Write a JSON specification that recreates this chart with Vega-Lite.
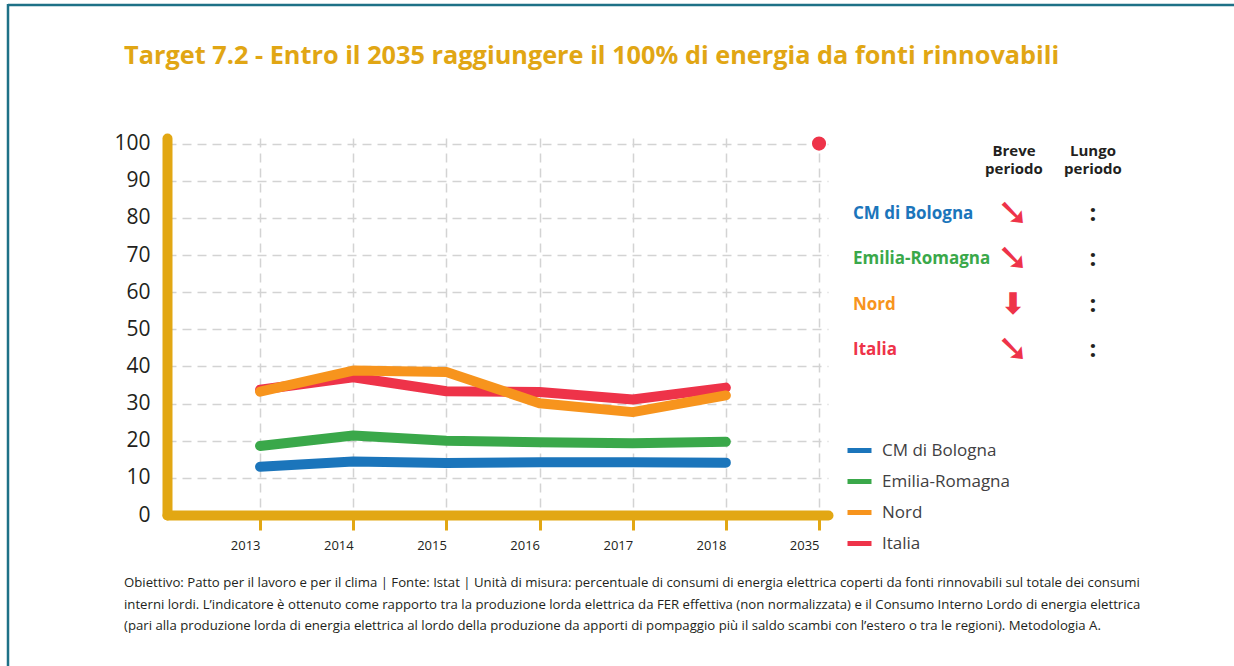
{
  "$schema": "https://vega.github.io/schema/vega-lite/v6.json",
  "autosize": {"type": "none"},
  "padding": {"left": 167, "top": 138, "right": 406, "bottom": 151},
  "width": 661,
  "height": 377,
  "background": "white",
  "title": {
    "text": "Target 7.2 - Entro il 2035 raggiungere il 100% di energia da fonti rinnovabili",
    "anchor": "start",
    "frame": "group",
    "dx": -43,
    "offset": 0,
    "dy": 87,
    "baseline": "alphabetic",
    "font": "Open Sans",
    "fontSize": 25.3,
    "fontWeight": "bold",
    "color": "#e1a614"
  },
  "config": {"view": {"stroke": null}, "font": "Open Sans"},
  "datasets": {
    "series": [
      {"series": "CM di Bologna", "year": "2013", "value": 13.0},
      {"series": "CM di Bologna", "year": "2014", "value": 14.4},
      {"series": "CM di Bologna", "year": "2015", "value": 14.0},
      {"series": "CM di Bologna", "year": "2016", "value": 14.2},
      {"series": "CM di Bologna", "year": "2017", "value": 14.2},
      {"series": "CM di Bologna", "year": "2018", "value": 14.1},
      {"series": "Emilia-Romagna", "year": "2013", "value": 18.6},
      {"series": "Emilia-Romagna", "year": "2014", "value": 21.4},
      {"series": "Emilia-Romagna", "year": "2015", "value": 20.0},
      {"series": "Emilia-Romagna", "year": "2016", "value": 19.6},
      {"series": "Emilia-Romagna", "year": "2017", "value": 19.3},
      {"series": "Emilia-Romagna", "year": "2018", "value": 19.7},
      {"series": "Italia", "year": "2013", "value": 33.7},
      {"series": "Italia", "year": "2014", "value": 37.1},
      {"series": "Italia", "year": "2015", "value": 33.3},
      {"series": "Italia", "year": "2016", "value": 33.1},
      {"series": "Italia", "year": "2017", "value": 31.1},
      {"series": "Italia", "year": "2018", "value": 34.3},
      {"series": "Nord", "year": "2013", "value": 33.2},
      {"series": "Nord", "year": "2014", "value": 38.9},
      {"series": "Nord", "year": "2015", "value": 38.5},
      {"series": "Nord", "year": "2016", "value": 30.1},
      {"series": "Nord", "year": "2017", "value": 27.7},
      {"series": "Nord", "year": "2018", "value": 32.2}
    ],
    "target": [{"year": "2035", "value": 100}],
    "trend": [
      {"series": "CM di Bologna", "breve": "➘", "lungo": ":"},
      {"series": "Emilia-Romagna", "breve": "➘", "lungo": ":"},
      {"series": "Nord", "breve": "⬇", "lungo": ":"},
      {"series": "Italia", "breve": "➘", "lungo": ":"}
    ],
    "headers": [
      {"col": "breve", "line": "1", "text": "Breve"},
      {"col": "breve", "line": "2", "text": "periodo"},
      {"col": "lungo", "line": "1", "text": "Lungo"},
      {"col": "lungo", "line": "2", "text": "periodo"}
    ],
    "notes": [
      {"line": "1", "text": "Obiettivo: Patto per il lavoro e per il clima | Fonte: Istat | Unità di misura: percentuale di consumi di energia elettrica coperti da fonti rinnovabili sul totale dei consumi"},
      {"line": "2", "text": "interni lordi. L’indicatore è ottenuto come rapporto tra la produzione lorda elettrica da FER effettiva (non normalizzata) e il Consumo Interno Lordo di energia elettrica"},
      {"line": "3", "text": "(pari alla produzione lorda di energia elettrica al lordo della produzione da apporti di pompaggio più il saldo scambi con l’estero o tra le regioni). Metodologia A."}
    ]
  },
  "layer": [
    {
      "data": {"values": [{"frame": "top"}]},
      "mark": {"type": "rule", "color": "#1e7187", "strokeWidth": 2.5},
      "encoding": {
        "x": {"datum": 0, "type": "quantitative", "scale": {"domain": [0, 1], "range": [-159, 1067]}, "axis": null},
        "x2": {"datum": 1},
        "y": {"datum": 0, "type": "quantitative", "scale": {"domain": [0, 1], "range": [-133, 700]}, "axis": null}
      }
    },
    {
      "data": {"values": [{"frame": "left"}]},
      "mark": {"type": "rule", "color": "#1e7187", "strokeWidth": 2.5},
      "encoding": {
        "x": {"datum": 0, "type": "quantitative", "scale": {"domain": [0, 1], "range": [-159, 1067]}, "axis": null},
        "y": {"datum": 0, "type": "quantitative", "scale": {"domain": [0, 1], "range": [-134, 528]}, "axis": null},
        "y2": {"datum": 1}
      }
    },
    {
      "encoding": {
        "x": {
          "field": "year", "type": "ordinal",
          "scale": {"type": "point", "domain": ["2013", "2014", "2015", "2016", "2017", "2018", "2035"], "padding": 0.5475, "align": 0.912},
          "axis": {
            "orient": "bottom", "title": null, "labelAngle": 0,
            "domainColor": "#e2a713", "domainWidth": 10, "domainCap": "round",
            "tickColor": "#e2a713", "tickWidth": 3, "tickSize": 15,
            "labelAlign": "right", "labelBaseline": "top", "labelPadding": 9,
            "labelFont": "Open Sans", "labelFontSize": 13, "labelColor": "#231f20",
            "grid": true, "gridColor": "#d3d3d3", "gridDash": [9, 6], "gridWidth": 1.5
          }
        },
        "y": {
          "field": "value", "type": "quantitative",
          "scale": {"domain": [0, 101.5], "nice": false},
          "axis": {
            "orient": "left", "title": null,
            "values": [0, 10, 20, 30, 40, 50, 60, 70, 80, 90, 100],
            "labelOverlap": false,
            "domainColor": "#e2a713", "domainWidth": 10, "domainCap": "round",
            "ticks": false, "labelPadding": 17,
            "labelFont": "Open Sans", "labelFontSize": 21, "labelColor": "#231f20",
            "grid": true, "gridColor": "#d3d3d3", "gridDash": [9, 6], "gridWidth": 1.5
          }
        }
      },
      "layer": [
        {
          "data": {"name": "series"},
          "mark": {"type": "line", "strokeWidth": 10, "strokeCap": "round", "strokeJoin": "round"},
          "encoding": {
            "color": {
              "field": "series", "type": "nominal",
              "scale": {"domain": ["CM di Bologna", "Emilia-Romagna", "Nord", "Italia"], "range": ["#1b75bb", "#3aa84a", "#f7941d", "#ee3349"]},
              "legend": {
                "orient": "none", "legendX": 678, "legendY": 298, "title": null,
                "symbolType": "stroke", "symbolStrokeWidth": 5, "symbolSize": 576,
                "labelFont": "Open Sans", "labelFontSize": 17, "labelColor": "#414042",
                "rowPadding": 6, "labelOffset": 8
              }
            }
          }
        },
        {
          "data": {"name": "target"},
          "mark": {"type": "circle", "size": 200, "color": "#ee3349", "opacity": 1}
        }
      ]
    },
    {
      "data": {"name": "trend"},
      "encoding": {
        "y": {"field": "series", "type": "ordinal", "scale": {"type": "point", "domain": ["CM di Bologna", "Emilia-Romagna", "Nord", "Italia"], "range": [76, 212], "padding": 0}, "axis": null}
      },
      "layer": [
        {
          "mark": {"type": "text", "align": "left", "baseline": "middle", "font": "Open Sans", "fontWeight": "bold", "fontSize": 17},
          "encoding": {
            "x": {"datum": "name", "type": "ordinal", "scale": {"type": "point", "domain": ["name", "gap", "breve", "lungo"], "range": [686, 926], "padding": 0}, "axis": null},
            "text": {"field": "series"},
            "color": {"field": "series", "type": "nominal", "scale": {"domain": ["CM di Bologna", "Emilia-Romagna", "Nord", "Italia"], "range": ["#1b75bb", "#3aa84a", "#f7941d", "#ee3349"]}, "legend": null}
          }
        },
        {
          "mark": {"type": "text", "align": "center", "baseline": "middle", "font": "DejaVu Sans", "fontWeight": "bold", "color": "#ee3349"},
          "encoding": {
            "x": {"datum": "breve", "type": "ordinal"},
            "text": {"field": "breve"},
            "size": {"condition": {"test": "datum.breve == '⬇'", "value": 30}, "value": 38}
          }
        },
        {
          "mark": {"type": "text", "align": "center", "baseline": "middle", "font": "Open Sans", "fontWeight": "bold", "fontSize": 24, "color": "#231f20"},
          "encoding": {
            "x": {"datum": "lungo", "type": "ordinal"},
            "text": {"field": "lungo"}
          }
        }
      ]
    },
    {
      "data": {"name": "headers"},
      "mark": {"type": "text", "align": "center", "baseline": "middle", "font": "Open Sans", "fontWeight": "bold", "fontSize": 15, "color": "#231f20"},
      "encoding": {
        "x": {"field": "col", "type": "ordinal", "scale": {"type": "point", "domain": ["breve", "lungo"], "range": [847, 926], "padding": 0}, "axis": null},
        "y": {"field": "line", "type": "ordinal", "scale": {"type": "point", "domain": ["1", "2"], "range": [13, 31], "padding": 0}, "axis": null},
        "text": {"field": "text"}
      }
    },
    {
      "data": {"name": "notes"},
      "mark": {"type": "text", "align": "left", "baseline": "middle", "font": "Open Sans", "fontSize": 13.2, "color": "#231f20"},
      "encoding": {
        "x": {"datum": 0, "type": "quantitative", "scale": {"domain": [0, 1], "range": [-43, 957]}, "axis": null},
        "y": {"field": "line", "type": "ordinal", "scale": {"type": "point", "domain": ["1", "2", "3"], "range": [445, 488], "padding": 0}, "axis": null},
        "text": {"field": "text"}
      }
    }
  ],
  "resolve": {"scale": {"x": "independent", "y": "independent", "color": "independent"}}
}
